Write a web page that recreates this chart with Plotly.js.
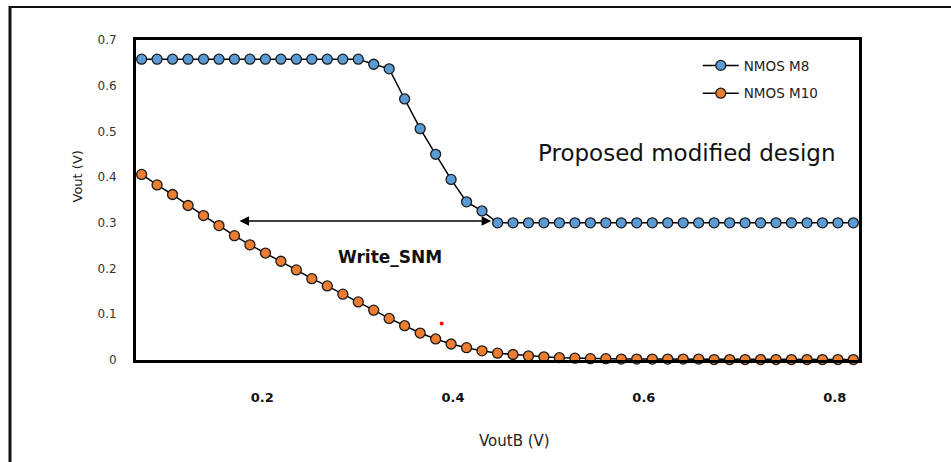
<!DOCTYPE html>
<html>
<head>
<meta charset="utf-8">
<script src="https://cdn.plot.ly/plotly-3.0.1.min.js"></script>
<style>
  html, body { margin: 0; padding: 0; background: #fff; }
  #chart { width: 951px; height: 462px; }
</style>
</head>
<body>
<div id="chart"></div>
<script>
// VoutB (V) sweep points
const voutB = [
  0.0735, 0.0897, 0.1059, 0.1222, 0.1384, 0.1546, 0.1708, 0.1870, 0.2033, 0.2195,
  0.2357, 0.2519, 0.2681, 0.2844, 0.3006, 0.3168, 0.3330, 0.3492, 0.3655, 0.3817,
  0.3979, 0.4141, 0.4303, 0.4466, 0.4628, 0.4790, 0.4952, 0.5114, 0.5277, 0.5439,
  0.5601, 0.5763, 0.5925, 0.6088, 0.6250, 0.6412, 0.6574, 0.6736, 0.6899, 0.7061,
  0.7223, 0.7385, 0.7547, 0.7710, 0.7872, 0.8034, 0.8196
];
// NMOS M8 Vout (V)
const nmosM8 = [
  0.658, 0.658, 0.658, 0.658, 0.658, 0.658, 0.658, 0.658, 0.658, 0.658,
  0.658, 0.658, 0.658, 0.658, 0.658, 0.647, 0.637, 0.571, 0.506, 0.450,
  0.395, 0.346, 0.326, 0.300, 0.300, 0.300, 0.300, 0.300, 0.300, 0.300,
  0.300, 0.300, 0.300, 0.300, 0.300, 0.300, 0.300, 0.300, 0.300, 0.300,
  0.300, 0.300, 0.300, 0.300, 0.300, 0.300, 0.300
];
// NMOS M10 Vout (V)
const nmosM10 = [
  0.406, 0.383, 0.362, 0.338, 0.316, 0.294, 0.272, 0.252, 0.234, 0.216,
  0.197, 0.178, 0.162, 0.144, 0.127, 0.109, 0.091, 0.075, 0.059, 0.046,
  0.035, 0.027, 0.020, 0.015, 0.012, 0.009, 0.007, 0.005, 0.004, 0.003,
  0.003, 0.002, 0.002, 0.002, 0.002, 0.002, 0.002, 0.001, 0.001, 0.001,
  0.001, 0.001, 0.001, 0.001, 0.001, 0.001, 0.001
];
const seriesNames = ["NMOS M8", "NMOS M10"];
const seriesColors = ["#5B9BD5", "#ED7D31"];
const yTicks = [0, 0.1, 0.2, 0.3, 0.4, 0.5, 0.6, 0.7];
const xTicks = [0.2, 0.4, 0.6, 0.8];
// Write SNM arrow span (VoutB) and level (Vout)
const snmFrom = 0.1745, snmTo = 0.440, snmLevel = 0.304;
// stray red dot
const strayX = [0.388], strayY = [0.080];

const FONT = "DejaVu Sans, sans-serif";
const L = 136, T = 40, R = 92, B = 102, W = 951, H = 462;
const PW = W - L - R, PH = H - T - B;
const px = v => (v - L) / PW;            // pixel x -> paper x
const py = v => (H - B - v) / PH;        // pixel y -> paper y

const traces = [
  {
    x: voutB, y: nmosM8, name: seriesNames[0], type: "scatter", mode: "lines+markers",
    line: { color: "#000000", width: 1.5 },
    marker: { color: seriesColors[0], size: 10, line: { color: "#1a1a1a", width: 1.3 } },
    cliponaxis: false, legend: "legend"
  },
  {
    x: voutB, y: nmosM10, name: seriesNames[1], type: "scatter", mode: "lines+markers",
    line: { color: "#000000", width: 1.5 },
    marker: { color: seriesColors[1], size: 10, line: { color: "#1a1a1a", width: 1.3 } },
    cliponaxis: false, legend: "legend2"
  },
  {
    x: strayX, y: strayY, type: "scatter", mode: "markers", showlegend: false,
    marker: { color: "#FF0000", size: 4 }, hoverinfo: "skip"
  }
];

const legendCommon = {
  xref: "paper", yref: "paper", xanchor: "left", yanchor: "middle",
  bgcolor: "rgba(0,0,0,0)", borderwidth: 0, itemwidth: 36,
  font: { family: FONT, size: 13.5, color: "#222" }
};

const layout = {
  width: W, height: H,
  margin: { l: L, r: R, t: T, b: B },
  paper_bgcolor: "#ffffff", plot_bgcolor: "#ffffff",
  showlegend: true,
  legend: Object.assign({}, legendCommon, { x: 0.777, y: 0.92 }),
  legend2: Object.assign({}, legendCommon, { x: 0.777, y: 0.833 }),
  xaxis: {
    range: [0.0676, 0.8255], tickvals: xTicks, ticktext: xTicks.map(v => v.toFixed(1)),
    showgrid: false, zeroline: false, showline: true, linecolor: "#000", linewidth: 3, mirror: true,
    ticks: "", ticklabelstandoff: 23,
    tickfont: { family: FONT, size: 13, color: "#111", weight: "bold" }
  },
  yaxis: {
    range: [0, 0.7], tickvals: yTicks, ticktext: yTicks.map(v => v === 0 ? "0" : v.toFixed(1)),
    showgrid: false, zeroline: false, showline: true, linecolor: "#000", linewidth: 3, mirror: true,
    ticks: "", ticklabelstandoff: 14,
    tickfont: { family: FONT, size: 12, color: "#333" }
  },
  annotations: [
    {
      x: snmTo, y: snmLevel, ax: snmFrom, ay: snmLevel, xref: "x", yref: "y", axref: "x", ayref: "y",
      text: "", showarrow: true, arrowhead: 2, startarrowhead: 2, arrowside: "end+start",
      arrowsize: 1.2, arrowwidth: 1.6, arrowcolor: "#000"
    },
    {
      x: 0.3335, y: 0.225, xref: "x", yref: "y", text: "<b>Write_SNM</b>", showarrow: false,
      xanchor: "center", yanchor: "middle",
      font: { family: FONT, size: 17, color: "#111" }
    },
    {
      x: 0.6447, y: 0.452, xref: "x", yref: "y", text: "Proposed modified design", showarrow: false,
      xanchor: "center", yanchor: "middle",
      font: { family: FONT, size: 23, color: "#111" }
    },
    {
      xref: "paper", yref: "paper", x: px(76.5), y: py(177), xanchor: "center", yanchor: "middle",
      text: "Vout (V)", textangle: -90, showarrow: false,
      font: { family: FONT, size: 13, color: "#222" }
    },
    {
      xref: "paper", yref: "paper", x: px(514), y: py(441), xanchor: "center", yanchor: "middle",
      text: "VoutB (V)", showarrow: false,
      font: { family: FONT, size: 15, color: "#222" }
    }
  ],
  shapes: [
    { type: "line", xref: "paper", yref: "paper", x0: px(10), x1: px(951),
      y0: py(7), y1: py(7), line: { color: "#111", width: 2 } },
    { type: "line", xref: "paper", yref: "paper", x0: px(10), x1: px(10),
      y0: py(6), y1: py(462), line: { color: "#111", width: 3 } }
  ]
};

Plotly.newPlot("chart", traces, layout, { displayModeBar: false, staticPlot: true });
</script>
</body>
</html>
